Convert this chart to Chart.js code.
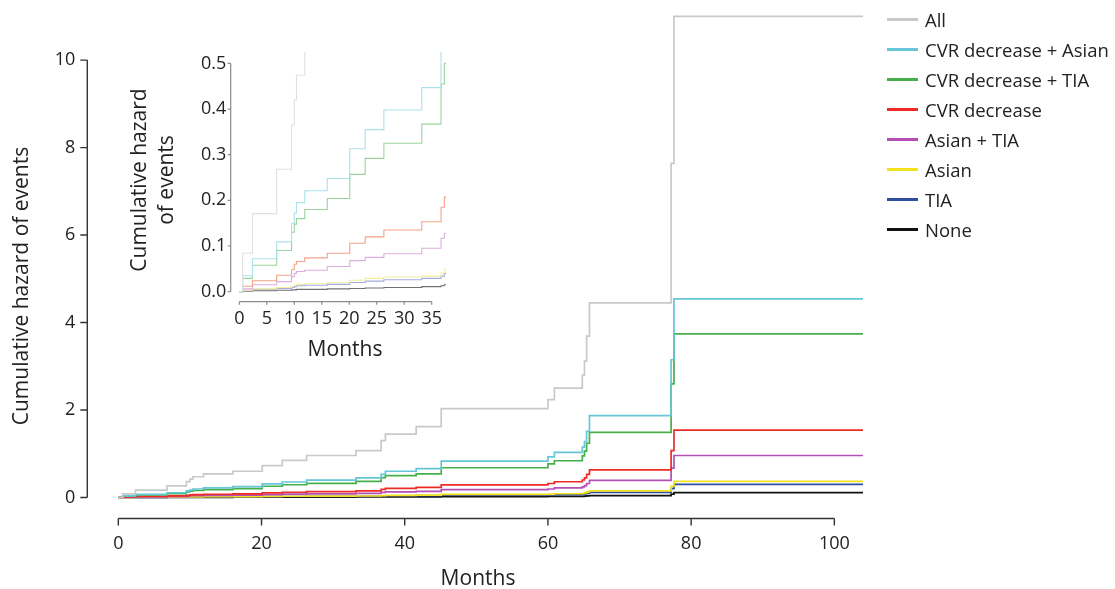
<!DOCTYPE html>
<html>
<head>
<meta charset="utf-8">
<script src="https://cdn.jsdelivr.net/npm/chart.js@4/dist/chart.umd.min.js"></script>
<style>
  body { margin: 0; background: #fff; }
  #wrap { position: relative; width: 1115px; height: 589px; font-family: 'Open Sans', sans-serif; }
  #main { position: absolute; left: 0; top: 0; }
  #inset { position: absolute; left: 110px; top: 40px; }
  #legend { position: absolute; left: 887px; top: 4px; }
  .row { position: absolute; left: 0; height: 30px; display: flex; align-items: center; white-space: nowrap; }
  .row span.ln { display: inline-block; width: 31px; height: 3px; margin-right: 7px; }
  .row span.tx { font-size: 18.5px; color: #222; }
</style>
</head>
<body>
<div id="wrap">
  <canvas id="main" width="1115" height="589"></canvas>
  <canvas id="inset" width="350" height="330"></canvas>
  <div id="legend"></div>
</div>
<script>
'use strict'

// event times (months) shared by every curve
const months = [0, 0.6, 2.4, 6.8, 9.5, 10.0, 10.4, 11.9, 16.0, 20.1, 22.9, 26.3, 33.2, 36.7, 37.3, 41.6, 45.1, 60.0, 60.9, 64.8, 65.1, 65.4, 65.8, 77.2, 77.6, 104];

// cumulative hazard
const hazAll       = [0, 0.084, 0.171, 0.268, 0.365, 0.42, 0.474, 0.54, 0.60, 0.73, 0.85, 0.96, 1.07, 1.30, 1.45, 1.62, 2.03, 2.24, 2.50, 2.80, 3.12, 3.69, 4.45, 7.64, 11.0, 11.0];
const hazCvrAsian  = [0, 0.035, 0.072, 0.109, 0.15, 0.172, 0.195, 0.221, 0.248, 0.313, 0.355, 0.398, 0.447, 0.53, 0.60, 0.66, 0.83, 0.93, 1.03, 1.15, 1.28, 1.51, 1.87, 3.15, 4.54, 4.54];
const hazCvrTia    = [0, 0.029, 0.058, 0.09, 0.13, 0.148, 0.16, 0.18, 0.204, 0.257, 0.292, 0.325, 0.367, 0.455, 0.50, 0.54, 0.68, 0.77, 0.84, 0.95, 1.06, 1.24, 1.49, 2.60, 3.74, 3.74];
const hazCvr       = [0, 0.012, 0.024, 0.036, 0.048, 0.06, 0.066, 0.074, 0.084, 0.106, 0.12, 0.135, 0.153, 0.185, 0.207, 0.23, 0.29, 0.32, 0.36, 0.40, 0.45, 0.53, 0.63, 1.07, 1.54, 1.54];
const hazAsianTia  = [0, 0.006, 0.015, 0.022, 0.033, 0.04, 0.044, 0.047, 0.055, 0.068, 0.075, 0.083, 0.095, 0.117, 0.128, 0.14, 0.18, 0.195, 0.22, 0.245, 0.27, 0.32, 0.39, 0.67, 0.96, 0.96];
const hazAsian     = [0, 0.003, 0.006, 0.009, 0.012, 0.014, 0.016, 0.018, 0.02, 0.025, 0.029, 0.032, 0.034, 0.041, 0.049, 0.055, 0.07, 0.077, 0.086, 0.096, 0.107, 0.127, 0.152, 0.26, 0.37, 0.37];
const hazTia       = [0, 0.002, 0.005, 0.007, 0.009, 0.011, 0.013, 0.014, 0.016, 0.02, 0.023, 0.026, 0.029, 0.034, 0.04, 0.044, 0.055, 0.06, 0.067, 0.075, 0.083, 0.099, 0.118, 0.205, 0.30, 0.30];
const hazNone      = [0, 0.001, 0.002, 0.003, 0.004, 0.004, 0.005, 0.005, 0.006, 0.007, 0.008, 0.009, 0.011, 0.013, 0.015, 0.016, 0.021, 0.023, 0.025, 0.028, 0.032, 0.037, 0.045, 0.077, 0.11, 0.11];

const groupNames = ['All', 'CVR decrease + Asian', 'CVR decrease + TIA', 'CVR decrease', 'Asian + TIA', 'Asian', 'TIA', 'None'];
const groupValues = [hazAll, hazCvrAsian, hazCvrTia, hazCvr, hazAsianTia, hazAsian, hazTia, hazNone];
const mainColors  = ['#c9c9c9', '#66c6d8', '#45b049', '#ee2a24', '#b44fb6', '#f1e21e', '#2f4ea0', '#111111'];
const insetColors = ['#e0e0e0', '#ace0ea', '#9cd39c', '#f4a287', '#dcaee0', '#f2eea4', '#a3abdb', '#707070'];

const mainXTicks = [0, 20, 40, 60, 80, 100];
const mainYTicks = [0, 2, 4, 6, 8, 10];
const insetXTicks = [0, 5, 10, 15, 20, 25, 30, 35];
const insetYTicks = [0, 0.1, 0.2, 0.3, 0.4, 0.5];

const FONT = "'Open Sans', sans-serif";

// R style detached axes + titles
const axisLines = {
  id: 'axisLines',
  afterDraw(chart, args, o) {
    const {ctx, chartArea, scales: {x, y}} = chart;
    const ax = chartArea.left + o.yShift;
    const ay = chartArea.bottom;
    ctx.save();
    ctx.strokeStyle = o.color;
    ctx.lineWidth = o.width;
    ctx.beginPath();
    ctx.moveTo(ax, y.getPixelForValue(o.yTicks[0]));
    ctx.lineTo(ax, y.getPixelForValue(o.yTicks[o.yTicks.length - 1]));
    o.yTicks.forEach(v => {
      const py = y.getPixelForValue(v);
      ctx.moveTo(ax - o.tick, py); ctx.lineTo(ax, py);
    });
    ctx.moveTo(x.getPixelForValue(o.xTicks[0]), ay);
    ctx.lineTo(x.getPixelForValue(o.xTicks[o.xTicks.length - 1]), ay);
    o.xTicks.forEach(v => {
      const px = x.getPixelForValue(v);
      ctx.moveTo(px, ay); ctx.lineTo(px, ay + o.tick);
    });
    ctx.stroke();

    ctx.fillStyle = '#222';
    ctx.font = o.titleSize + 'px ' + FONT;
    ctx.textAlign = 'center';
    ctx.textBaseline = 'middle';
    ctx.fillText(o.xTitle, o.xTitleAt[0], o.xTitleAt[1]);
    ctx.translate(o.yTitleAt[0], o.yTitleAt[1]);
    ctx.rotate(-Math.PI / 2);
    const n = o.yTitle.length;
    o.yTitle.forEach((line, i) => ctx.fillText(line, 0, (i - (n - 1) / 2) * o.titleLine));
    ctx.restore();
  }
};

const makeSets = (colors, width) => groupNames.map((name, i) => ({
  label: name,
  data: months.map((m, k) => ({x: m, y: groupValues[i][k]})),
  borderColor: colors[i],
  backgroundColor: colors[i],
  borderWidth: width,
  stepped: 'before',
  pointRadius: 0,
  fill: false
}));

const fixTicks = list => s => { s.ticks = list.map(v => ({value: v})); };
// fixed box size; the tick padding must not push the plot area down
const fixWidth = w => s => { s.width = w; s.paddingTop = 0; s.paddingBottom = 0; };

// main chart
new Chart(document.getElementById('main'), {
  type: 'line',
  data: {datasets: makeSets(mainColors, 1.7)},
  options: {
    responsive: false,
    animation: false,
    devicePixelRatio: 1,
    layout: {padding: {top: 12, right: 252, left: 0, bottom: 0}},
    plugins: {
      legend: {display: false},
      tooltip: {enabled: false},
      axisLines: {
        yShift: -31, tick: 7, color: '#333', width: 1.4,
        xTicks: mainXTicks, yTicks: mainYTicks,
        xTitle: 'Months', xTitleAt: [478, 579],
        yTitle: ['Cumulative hazard of events'], yTitleAt: [22, 286],
        titleSize: 21, titleLine: 27
      }
    },
    scales: {
      x: {
        type: 'linear', min: 0, max: 104, bounds: 'data',
        afterBuildTicks: fixTicks(mainXTicks),
        afterFit: s => { s.height = 70.5; },
        grid: {display: false, drawTicks: false},
        border: {display: false},
        ticks: {padding: 15, color: '#222', font: {family: FONT, size: 18}}
      },
      y: {
        type: 'linear', min: -0.48, max: 11.1, bounds: 'data',
        afterBuildTicks: fixTicks(mainYTicks),
        afterFit: fixWidth(118.3),
        grid: {display: false, drawTicks: false},
        border: {display: false},
        ticks: {padding: 43, color: '#222', font: {family: FONT, size: 18}}
      }
    }
  },
  plugins: [axisLines]
});

// inset: first 37 months, zoomed
new Chart(document.getElementById('inset'), {
  type: 'line',
  data: {datasets: makeSets(insetColors, 1.1)},
  options: {
    responsive: false,
    animation: false,
    devicePixelRatio: 1,
    layout: {padding: {top: 12, right: 14, left: 0, bottom: 0}},
    plugins: {
      legend: {display: false},
      tooltip: {enabled: false},
      axisLines: {
        yShift: -8.6, tick: 3, color: '#8a8a8a', width: 1.2,
        xTicks: insetXTicks, yTicks: insetYTicks,
        xTitle: 'Months', xTitleAt: [235, 310],
        yTitle: ['Cumulative hazard', 'of events'], yTitleAt: [43.5, 140],
        titleSize: 21, titleLine: 27
      }
    },
    scales: {
      x: {
        type: 'linear', min: 0, max: 37.6, bounds: 'data',
        afterBuildTicks: fixTicks(insetXTicks),
        afterFit: s => { s.height = 68.3; },
        grid: {display: false, drawTicks: false},
        border: {display: false},
        ticks: {padding: 6, color: '#222', font: {family: FONT, size: 18}}
      },
      y: {
        type: 'linear', min: -0.022, max: 0.525, bounds: 'data',
        afterBuildTicks: fixTicks(insetYTicks),
        afterFit: fixWidth(129.3),
        grid: {display: false, drawTicks: false},
        border: {display: false},
        ticks: {padding: 13, color: '#222', font: {family: FONT, size: 18},
                callback: v => v.toFixed(1)}
      }
    }
  },
  plugins: [axisLines]
});

// legend
const legend = document.getElementById('legend');
groupNames.forEach((name, i) => {
  legend.insertAdjacentHTML('beforeend',
    `<div class="row" style="top:${i * 30}px"><span class="ln" style="background:${mainColors[i]}"></span><span class="tx">${name}</span></div>`);
});
</script>
</body>
</html>
